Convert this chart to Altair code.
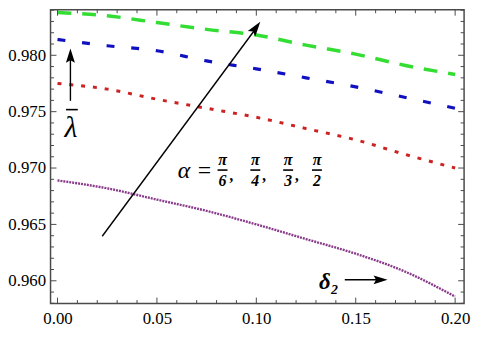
import altair as alt
import pandas as pd

# ---------------- data ----------------
delta2 = [0.0, 0.025, 0.05, 0.075, 0.1, 0.125, 0.15, 0.175, 0.2]
lam_pi2 = [0.9838, 0.9835, 0.9829, 0.9823, 0.9818, 0.9809, 0.9801, 0.9791, 0.9783]  # green
lam_pi3 = [0.9814, 0.98085, 0.9804, 0.9795, 0.9788, 0.9780, 0.9772, 0.97626, 0.9753]  # blue
lam_pi4 = [0.9775, 0.9770, 0.9761, 0.9753, 0.9745, 0.9735, 0.9725, 0.9712, 0.9700]  # red
lam_pi6 = [0.9689, 0.9682, 0.9672, 0.9662, 0.9650, 0.9637, 0.9624, 0.9608, 0.9586]  # purple

x_ticks = [0.0, 0.05, 0.10, 0.15, 0.20]
y_ticks = [0.960, 0.965, 0.970, 0.975, 0.980]
x_minor = [round(i * 0.01, 3) for i in range(0, 21) if i % 5 != 0]
y_minor = [round(0.958 + i * 0.001, 4) for i in range(0, 27) if (958 + i) % 5 != 0]

alpha_denoms = ["6", "4", "3", "2"]
alpha_x = [0.083, 0.0995, 0.116, 0.1305]

# ---------------- layout ----------------
W, H = 418, 297
FONT = "Liberation Serif"
FRAME = "#4a4a4a"

xs = alt.Scale(domain=[-0.0035, 0.2045], nice=False, zero=False)
ys = alt.Scale(domain=[0.95798, 0.98404], nice=False, zero=False)
xax = alt.Axis(values=x_ticks, format=".2f", ticks=False, domain=False, grid=False,
               labelFont=FONT, labelFontSize=17, labelColor="black",
               labelPadding=7, title=None, labelFlush=False)
yax = alt.Axis(values=y_ticks, format=".3f", ticks=False, domain=False, grid=False,
               labelFont=FONT, labelFontSize=17, labelColor="black",
               labelPadding=5, title=None, labelFlush=False)


def X(f):
    return alt.X(f"{f}:Q", scale=xs, axis=xax)


def Y(f):
    return alt.Y(f"{f}:Q", scale=ys, axis=yax)


curves = pd.DataFrame({"x": delta2, "g": lam_pi2, "b": lam_pi3, "r": lam_pi4, "p": lam_pi6})


def curve(col, color, dash, width):
    return alt.Chart(curves).mark_line(color=color, strokeDash=dash, strokeWidth=width,
                                       interpolate="monotone").encode(x=X("x"), y=Y(col))


layers = [
    curve("g", "#33dd33", [14, 11], 3.5),
    curve("b", "#1010c0", [8, 17], 3.2),
    curve("r", "#cc2222", [4, 8], 3.0),
    curve("p", "#8a3a8a", [2, 1], 2.4),
]

# ---------------- inward frame ticks ----------------
xmaj = pd.DataFrame({"x": x_ticks})
xmin = pd.DataFrame({"x": x_minor})
ymaj = pd.DataFrame({"y": y_ticks})
ymin = pd.DataFrame({"y": y_minor})
for df, ln in [(xmaj, 6), (xmin, 3.5)]:
    layers.append(alt.Chart(df).mark_rule(color=FRAME, strokeWidth=1).encode(
        x=X("x"), y=alt.value(H), y2=alt.value(H - ln)))
    layers.append(alt.Chart(df).mark_rule(color=FRAME, strokeWidth=1).encode(
        x=X("x"), y=alt.value(0), y2=alt.value(ln)))
for df, ln in [(ymaj, 6), (ymin, 3.5)]:
    layers.append(alt.Chart(df).mark_rule(color=FRAME, strokeWidth=1).encode(
        y=Y("y"), x=alt.value(0), x2=alt.value(ln)))
    layers.append(alt.Chart(df).mark_rule(color=FRAME, strokeWidth=1).encode(
        y=Y("y"), x=alt.value(W), x2=alt.value(W - ln)))

# ---------------- arrows ----------------
shafts = pd.DataFrame({
    "x": [0.0225, 0.0065, 0.1445],
    "y": [0.96395, 0.97596, 0.96009],
    "x2": [0.0990, 0.0065, 0.1620],
    "y2": [0.98220, 0.97990, 0.96009],
})
layers.append(alt.Chart(shafts).mark_rule(color="black", strokeWidth=1.4).encode(
    x=X("x"), y=Y("y"), x2=alt.X2("x2"), y2=alt.Y2("y2")))

heads = pd.DataFrame({
    "x": [0.102, 0.0065, 0.166],
    "y": [0.98298, 0.98061, 0.96009],
    "angle": [36.2, 0, 90],
    "size": [680, 640, 600],
})
HEAD = "M0,0 L0.36,1.15 L0,0.95 L-0.36,1.15 Z"
layers.append(alt.Chart(heads).mark_point(shape=HEAD, filled=True, color="black", opacity=1,
                                          strokeWidth=0).encode(
    x=X("x"), y=Y("y"),
    angle=alt.Angle("angle:Q", scale=None),
    size=alt.Size("size:Q", scale=None)))

# ---------------- labels ----------------
lam = pd.DataFrame({"x": [0.0068], "y": [0.9735], "t": ["λ"]})
layers.append(alt.Chart(lam).mark_text(font=FONT, fontStyle="italic", fontSize=30,
                                       baseline="middle", align="center", color="black").encode(
    x=X("x"), y=Y("y"), text="t:N"))
lam_bar = pd.DataFrame({"x": [0.0043], "x2": [0.0102], "y": [0.97518]})
layers.append(alt.Chart(lam_bar).mark_rule(color="black", strokeWidth=1.6).encode(
    x=X("x"), x2=alt.X2("x2"), y=Y("y")))

dlt = pd.DataFrame({"x": [0.1365], "y": [0.95985], "t": ["δ₂"]})
layers.append(alt.Chart(dlt).mark_text(font=FONT, fontStyle="italic", fontWeight="bold",
                                       fontSize=23, baseline="middle", align="center",
                                       color="black").encode(x=X("x"), y=Y("y"), text="t:N"))

al = pd.DataFrame({"x": [0.0605], "y": [0.96975], "t": ["α ="]})
layers.append(alt.Chart(al).mark_text(font=FONT, fontStyle="italic", fontSize=24,
                                      baseline="middle", align="left", color="black").encode(
    x=X("x"), y=Y("y"), text="t:N"))

fr = pd.DataFrame({"x": alpha_x, "d": alpha_denoms, "pi": ["π"] * 4,
                   "xl": [v - 0.0025 for v in alpha_x], "xr": [v + 0.0025 for v in alpha_x],
                   "ynum": [0.97075] * 4, "yden": [0.96882] * 4, "ybar": [0.96982] * 4,
                   "xc": [v + 0.0047 for v in alpha_x], "yc": [0.96925] * 4,
                   "c": [",", ",", ",", ""]})
layers.append(alt.Chart(fr).mark_text(font=FONT, fontWeight="bold", fontStyle="italic",
                                      fontSize=16, baseline="middle", align="center",
                                      color="black").encode(x=X("x"), y=Y("ynum"), text="pi:N"))
layers.append(alt.Chart(fr).mark_text(font=FONT, fontWeight="bold", fontStyle="italic",
                                      fontSize=16, baseline="middle", align="center",
                                      color="black").encode(x=X("x"), y=Y("yden"), text="d:N"))
layers.append(alt.Chart(fr).mark_rule(color="black", strokeWidth=1.6).encode(
    x=X("xl"), x2=alt.X2("xr"), y=Y("ybar")))
layers.append(alt.Chart(fr).mark_text(font=FONT, fontWeight="bold", fontStyle="italic",
                                      fontSize=16, baseline="middle", align="center",
                                      color="black").encode(x=X("xc"), y=Y("yc"), text="c:N"))

chart = alt.layer(*layers).properties(
    width=W, height=H,
    autosize=alt.AutoSizeParams(type="none"),
    padding={"left": 43, "top": 0, "right": 8, "bottom": 28},
    background="white",
).configure_view(stroke=FRAME, strokeWidth=1.5).configure_axis(
    labelFont=FONT, labelFontSize=17, labelColor="black"
)

chart.save("out.html", embed_options={"renderer": "svg", "actions": False})
